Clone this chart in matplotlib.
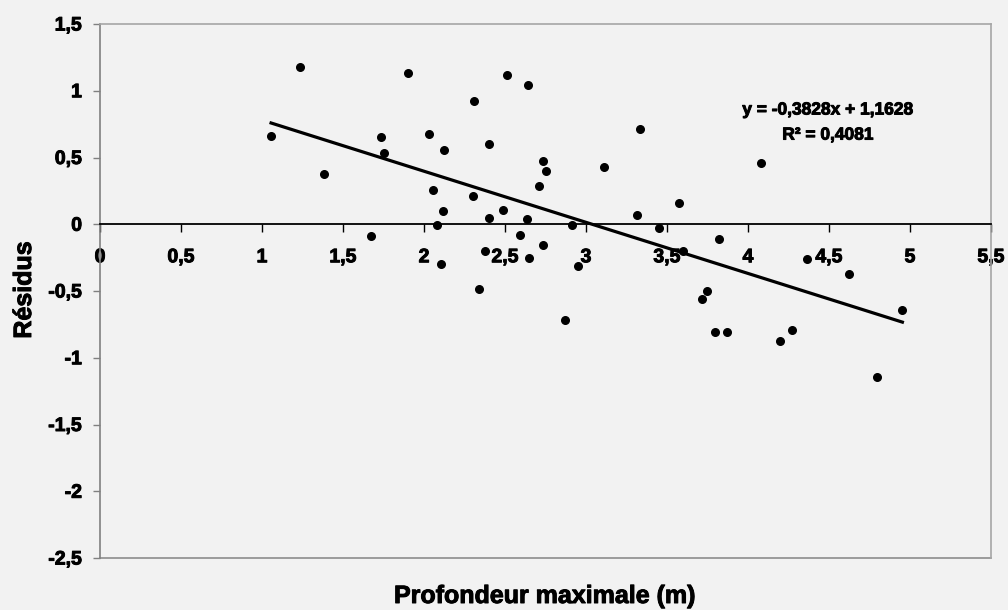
import matplotlib
matplotlib.use("Agg")
import matplotlib.pyplot as plt
import matplotlib.patheffects as pe
from matplotlib.ticker import FuncFormatter, MultipleLocator

# Profondeur maximale (m) et résidus correspondants
profondeur = [1.056, 1.235, 1.383, 1.673, 1.733, 1.753, 1.903, 2.033, 2.053, 2.082,
              2.105, 2.117, 2.123, 2.311, 2.300, 2.403, 2.342, 2.379, 2.403, 2.490,
              2.514, 2.593, 2.641, 2.634, 2.650, 2.712, 2.733, 2.753, 2.733, 2.872,
              2.911, 2.952, 3.111, 3.313, 3.331, 3.451, 3.572, 3.597, 3.796, 3.870,
              3.821, 3.718, 3.745, 4.080, 4.362, 4.621, 4.953, 4.200, 4.270, 4.798]
residus = [0.659, 1.180, 0.379, -0.086, 0.650, 0.536, 1.135, 0.678, 0.259, -0.003,
           -0.298, 0.100, 0.559, 0.923, 0.209, 0.603, -0.485, -0.203, 0.047, 0.107,
           1.118, -0.081, 1.045, 0.037, -0.250, 0.289, 0.471, 0.396, -0.153, -0.717,
           -0.008, -0.310, 0.426, 0.067, 0.716, -0.031, 0.157, -0.198, -0.810, -0.810,
           -0.110, -0.560, -0.498, 0.456, -0.263, -0.373, -0.642, -0.877, -0.795, -1.142]

# Courbe de tendance linéaire
pente = -0.3828
ordonnee = 1.1628
r2 = 0.4081

plt.rcParams['font.family'] = ['Liberation Sans', 'DejaVu Sans']
plt.rcParams['font.weight'] = 'bold'

fond = '#f2f2f2'
gras = [pe.withStroke(linewidth=0.7, foreground='black')]  # texte un peu plus épais

fig = plt.figure(figsize=(10.08, 6.10), dpi=100, facecolor=fond)
ax = fig.add_axes([100 / 1008, 1 - 558 / 610, 891 / 1008, 534 / 610])
ax.set_facecolor(fond)

ax.scatter(profondeur, residus, s=30, color='black', zorder=3)

xt = [min(profondeur), max(profondeur)]
ax.plot(xt, [pente * x + ordonnee for x in xt], color='black', lw=2.3, zorder=2)

ax.set_xlim(0, 5.5)
ax.set_ylim(-2.5, 1.5)
ax.xaxis.set_major_locator(MultipleLocator(0.5))
ax.yaxis.set_major_locator(MultipleLocator(0.5))
fmt = FuncFormatter(lambda v, p: f"{v:g}".replace('.', ','))
ax.xaxis.set_major_formatter(fmt)
ax.yaxis.set_major_formatter(fmt)

# axe des x à y = 0, cadre gris autour de la zone de tracé
ax.spines['bottom'].set_position(('data', 0))
ax.spines['bottom'].set_color('black')
ax.spines['bottom'].set_linewidth(1.3)
ax.spines['left'].set_color('#808080')
ax.spines['left'].set_linewidth(1.2)
for s in ('top', 'right'):
    ax.spines[s].set_color('#a6a6a6')
    ax.spines[s].set_linewidth(1.2)
ax.plot([0, 5.5], [-2.5, -2.5], color='#8c8c8c', lw=1.2, clip_on=False)

ax.tick_params(axis='x', direction='out', length=6, width=1, color='black',
               pad=12, labelsize=14)
ax.tick_params(axis='y', direction='out', length=5, width=1, color='#808080',
               pad=8, labelsize=14)
for lab in ax.get_xticklabels() + ax.get_yticklabels():
    lab.set_fontweight('bold')
    lab.set_path_effects(gras)

ax.text(4.494, 0.856, f"y = {pente:.4f}x + {ordonnee:.4f}".replace('.', ','),
        ha='center', va='center', fontsize=12.5, fontweight='bold', path_effects=gras)
ax.text(4.494, 0.668, f"R² = {r2:.4f}".replace('.', ','),
        ha='center', va='center', fontsize=12.5, fontweight='bold', path_effects=gras)

fig.text(545 / 1008, 1 - 596 / 610, 'Profondeur maximale (m)', ha='center',
         va='center', fontsize=18, fontweight='bold', path_effects=gras)
fig.text(24 / 1008, 1 - 290 / 610, 'Résidus', rotation=90, ha='center',
         va='center', fontsize=18, fontweight='bold', path_effects=gras)

fig.savefig('out.png', dpi=100, facecolor=fond)
